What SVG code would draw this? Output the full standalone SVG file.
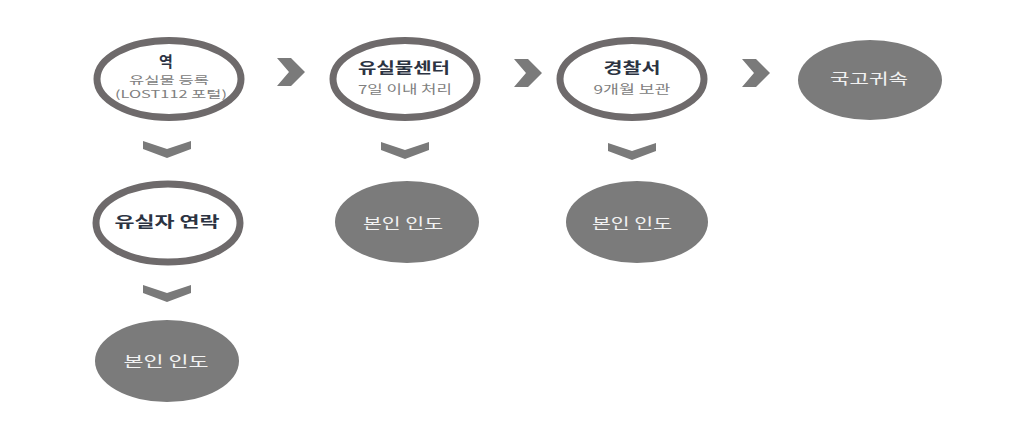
<svg xmlns="http://www.w3.org/2000/svg" width="1024" height="427" viewBox="0 0 1024 427">
<defs>
<style>
.ring{fill:#ffffff;stroke:#6e6a6b;stroke-width:7}
.solid{fill:#7b7b7b}
.chev{fill:#7a7a7a}
text{font-family:"Noto Sans CJK KR","Noto Sans",sans-serif;text-anchor:middle}
.title{font-size:15px;font-weight:700;fill:#2c3342}
.sub{font-size:12px;fill:#808080}
.sm{font-size:10.5px}
.wt{font-size:15px;fill:#f2f2f2}
</style>
<polygon id="cr" points="-14,-14 0,-14 14,0 0,14 -14,14 -2,0"/>
<polygon id="cd" points="-24,-8 0,0 24,-8 24,0 0,9 -24,0"/>
</defs>
<rect width="1024" height="427" fill="#ffffff"/>
<g id="connectors" class="chev">
<use href="#cr" x="291" y="72"/>
<use href="#cr" x="528" y="73"/>
<use href="#cr" x="756" y="73"/>
<use href="#cd" x="167" y="149"/>
<use href="#cd" x="405" y="150"/>
<use href="#cd" x="632" y="151"/>
<use href="#cd" x="167" y="293"/>
</g>
<g id="station">
<ellipse class="ring" cx="169" cy="79" rx="72" ry="38.5"/>
<text class="title" x="166" y="67">역</text>
<text class="sub sm" x="169" y="84" textLength="80" lengthAdjust="spacingAndGlyphs">유실물 등록</text>
<text class="sub sm" x="171" y="98" textLength="112" lengthAdjust="spacingAndGlyphs">(LOST112 포털)</text>
</g>
<g id="center">
<ellipse class="ring" cx="405" cy="79" rx="72" ry="38.5"/>
<text class="title" x="404" y="73" textLength="92" lengthAdjust="spacingAndGlyphs">유실물센터</text>
<text class="sub" x="405" y="94" textLength="94" lengthAdjust="spacingAndGlyphs">7일 이내 처리</text>
</g>
<g id="police">
<ellipse class="ring" cx="632" cy="79" rx="72" ry="38.5"/>
<text class="title" x="632" y="73" textLength="57" lengthAdjust="spacingAndGlyphs">경찰서</text>
<text class="sub" x="632" y="94" textLength="77" lengthAdjust="spacingAndGlyphs">9개월 보관</text>
</g>
<g id="state">
<ellipse class="solid" cx="870" cy="80" rx="72" ry="40"/>
<text class="wt" x="869" y="84" textLength="78" lengthAdjust="spacingAndGlyphs">국고귀속</text>
</g>
<g id="contact">
<ellipse class="ring" cx="168" cy="223" rx="72" ry="39"/>
<text class="title" x="167" y="227" textLength="105" lengthAdjust="spacingAndGlyphs">유실자 연락</text>
</g>
<g id="handover1">
<ellipse class="solid" cx="407" cy="222" rx="72" ry="41"/>
<text class="wt" x="403" y="229" textLength="80" lengthAdjust="spacingAndGlyphs">본인 인도</text>
</g>
<g id="handover2">
<ellipse class="solid" cx="637" cy="222" rx="71" ry="41"/>
<text class="wt" x="632" y="229" textLength="80" lengthAdjust="spacingAndGlyphs">본인 인도</text>
</g>
<g id="handover3">
<ellipse class="solid" cx="167" cy="361" rx="72" ry="41"/>
<text class="wt" x="166" y="367" textLength="85" lengthAdjust="spacingAndGlyphs">본인 인도</text>
</g>
</svg>
